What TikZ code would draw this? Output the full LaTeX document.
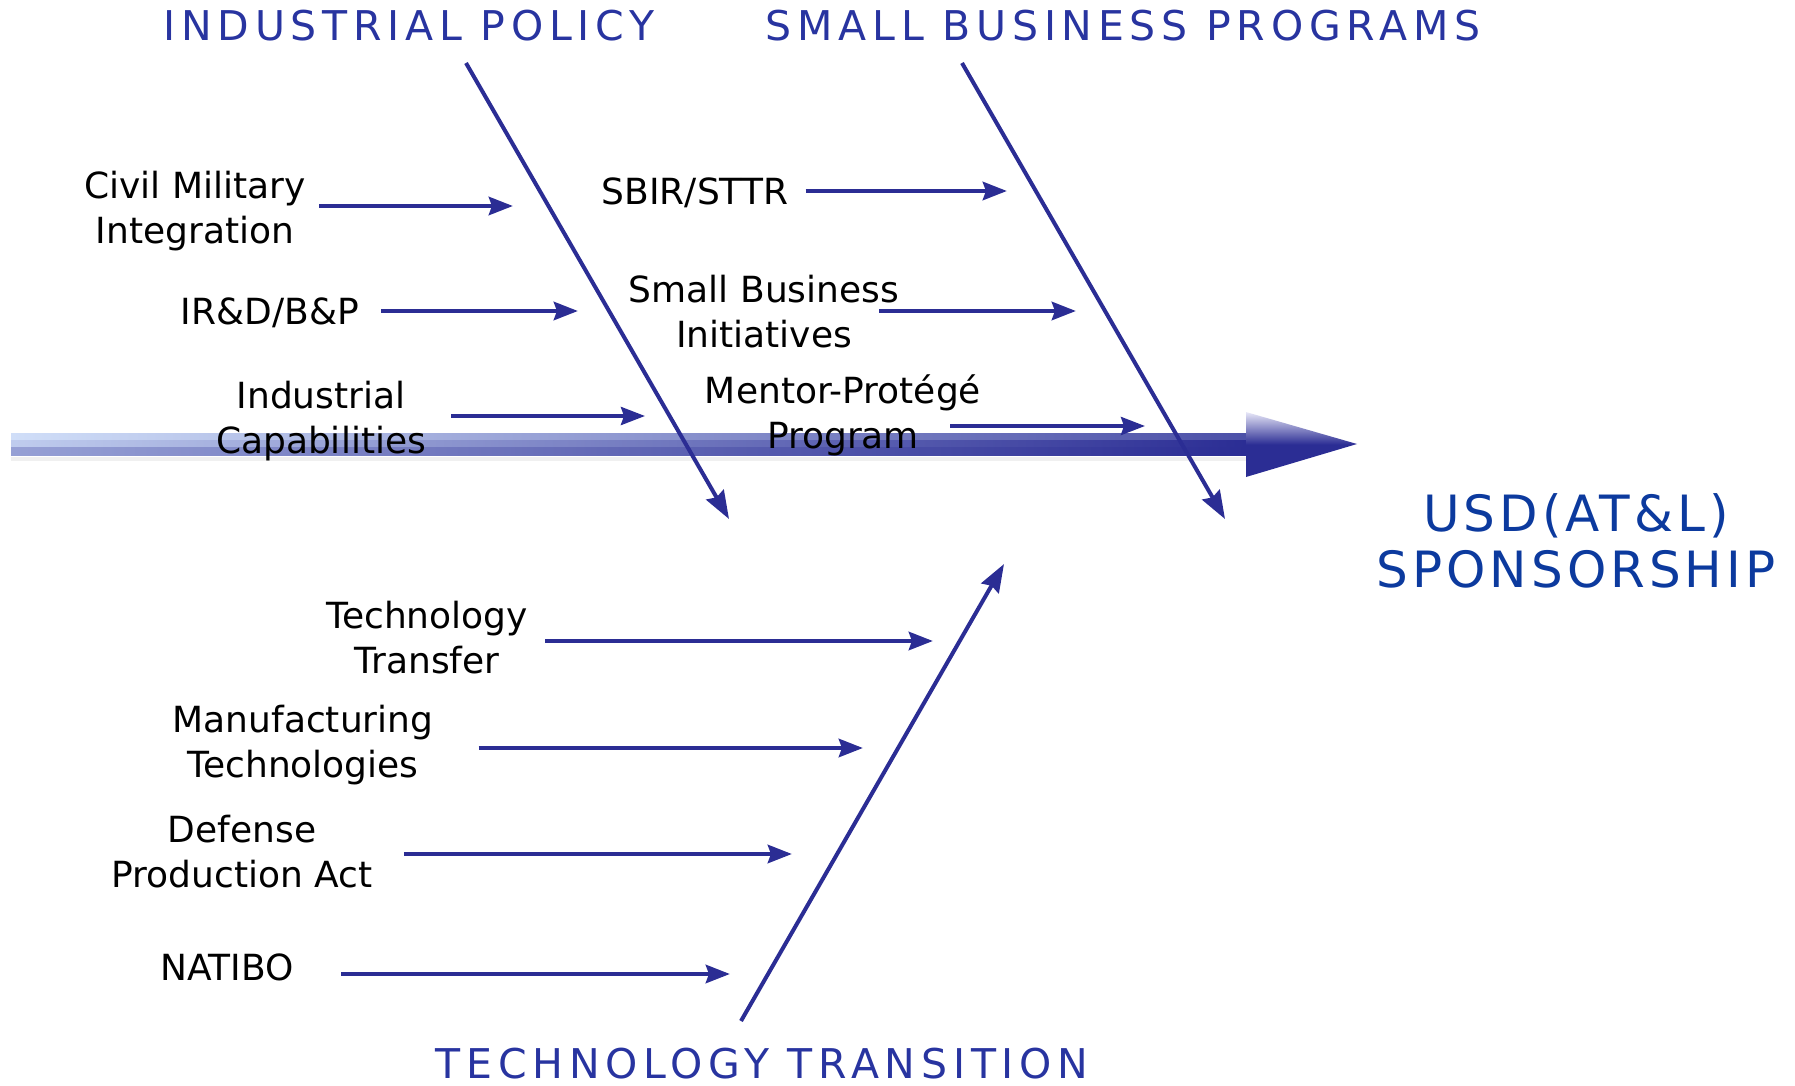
\documentclass[tikz,border=0pt]{standalone}
\usepackage{fontspec}
\setmainfont{DejaVu Sans}
\usetikzlibrary{arrows.meta}

\definecolor{fishBlue}{RGB}{43,45,148}
\definecolor{titleBlue}{RGB}{40,52,160}
\definecolor{effectBlue}{RGB}{12,58,158}
\definecolor{spineLight}{RGB}{208,222,248}
\definecolor{headLight}{RGB}{232,232,248}

\tikzset{
	bone/.style={draw=fishBlue, line width=2pt, -{Stealth[length=14pt,width=10pt,inset=1.5pt]}},
	feeder/.style={draw=fishBlue, line width=2.4pt, -{Stealth[length=12pt,width=9pt,inset=1.5pt]}},
	cause/.style={align=center, inner sep=0pt, font=\fontsize{18}{22.5}\selectfont},
	category/.style={inner sep=0pt, text=titleBlue, font=\fontsize{20.5}{24}\selectfont\addfontfeature{LetterSpace=14}},
}

\begin{document}
\begin{tikzpicture}[x=0.5pt, y=-0.5pt]
	\useasboundingbox (0,0) rectangle (1795,1086);

	% spine
	\fill[black!6] (11,457) rectangle (1246,461);
	\shade[left color=spineLight, middle color=spineLight!55!fishBlue, right color=fishBlue!80!spineLight] (11,433) rectangle (1246,440.5);
	\shade[left color=spineLight!90!fishBlue, middle color=fishBlue!75!spineLight, right color=fishBlue] (11,440) rectangle (1246,447.5);
	\shade[left color=spineLight!65!fishBlue, middle color=fishBlue, right color=fishBlue] (11,447) rectangle (1246,455);
	\shade[top color=headLight, bottom color=fishBlue, middle color=fishBlue] (1246,412) -- (1357,444) -- (1246,477) -- cycle;

	% categories
	\node[category] (policy) at (409,26) {INDUSTRIAL POLICY};
	\node[category] (smallbiz) at (1123,26) {SMALL BUSINESS PROGRAMS};
	\node[category] (transition) at (762,1064) {TECHNOLOGY TRANSITION};
	\node[align=center, inner sep=0pt, text=effectBlue, font=\fontsize{25}{28}\selectfont\addfontfeature{LetterSpace=8}] (usd) at (1576,541) {USD(AT\&L)\\SPONSORSHIP};

	% bones
	\coordinate (policyTop) at (466,63);
	\coordinate (policyTip) at (729,519);
	\coordinate (smallbizTop) at (962,63);
	\coordinate (smallbizTip) at (1225,519);
	\coordinate (transitionFoot) at (741,1021);
	\coordinate (transitionTip) at (1004,564);
	\draw[bone] (policyTop) -- (policyTip);
	\draw[bone] (smallbizTop) -- (smallbizTip);
	\draw[bone] (transitionFoot) -- (transitionTip);

	% causes
	\node[cause] (civil) at (195,211) {Civil Military\\Integration};
	\node[cause] (ird) at (270,313) {IR\&D/B\&P};
	\node[cause] (indcap) at (321,421) {Industrial\\Capabilities};
	\node[cause] (sbir) at (695,193) {SBIR/STTR};
	\node[cause] (sbi) at (764,312) {Small Business\\Initiatives};
	\node[cause] (mentor) at (843,415) {Mentor-Protégé\\Program};
	\node[cause] (techtr) at (427,638) {Technology\\Transfer};
	\node[cause] (manuf) at (303,745) {Manufacturing\\Technologies};
	\node[cause] (dpa) at (242,852) {Defense\\Production Act};
	\node[cause] (natibo) at (227,967) {NATIBO};

	\coordinate (civilEnd) at (513,206);
	\coordinate (irdEnd) at (578,311);
	\coordinate (indcapEnd) at (645,416);
	\coordinate (sbirEnd) at (1007,191);
	\coordinate (sbiEnd) at (1076,311);
	\coordinate (mentorEnd) at (1145,426);
	\coordinate (techtrEnd) at (933,641);
	\coordinate (manufEnd) at (863,748);
	\coordinate (dpaEnd) at (792,854);
	\coordinate (natiboEnd) at (730,974);

	\draw[feeder] ([xshift=6.5pt]civil.east |- civilEnd) -- (civilEnd);
	\draw[feeder] ([xshift=11pt]ird.east |- irdEnd) -- (irdEnd);
	\draw[feeder, line width=1.9pt] ([xshift=12.5pt]indcap.east |- indcapEnd) -- (indcapEnd);
	\draw[feeder] ([xshift=8.5pt]sbir.east |- sbirEnd) -- (sbirEnd);
	\draw[feeder] ([xshift=-10pt]sbi.east |- sbiEnd) -- (sbiEnd);
	\draw[feeder, line width=1.9pt] ([xshift=-15.5pt]mentor.east |- mentorEnd) -- (mentorEnd);
	\draw[feeder] ([xshift=8.5pt]techtr.east |- techtrEnd) -- (techtrEnd);
	\draw[feeder] ([xshift=22.5pt]manuf.east |- manufEnd) -- (manufEnd);
	\draw[feeder] ([xshift=15.5pt]dpa.east |- dpaEnd) -- (dpaEnd);
	\draw[feeder] ([xshift=23.5pt]natibo.east |- natiboEnd) -- (natiboEnd);
\end{tikzpicture}
\end{document}
